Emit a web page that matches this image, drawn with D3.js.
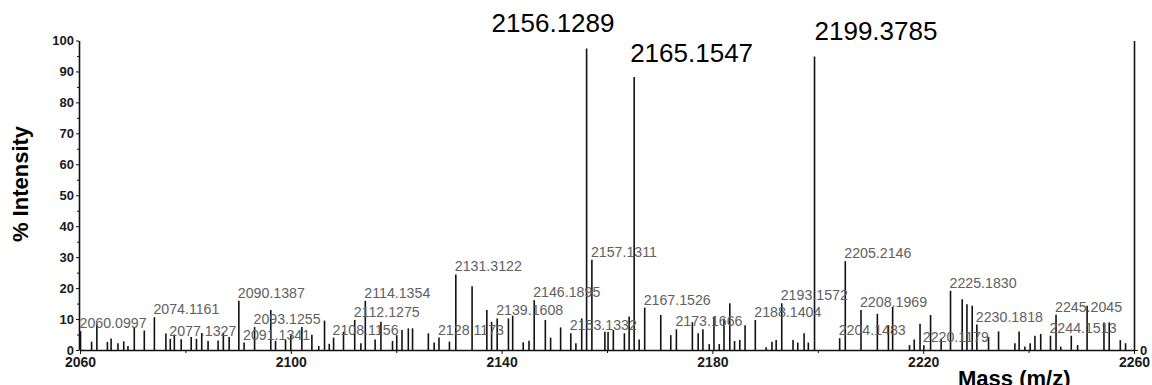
<!DOCTYPE html>
<html>
<head>
<meta charset="utf-8">
<script src="https://cdn.jsdelivr.net/npm/d3@7"></script>
<style>
	body { margin: 0; background: #fff; }
	#chart-area { width: 1152px; height: 385px; }
	.axis text { font-family: "Liberation Sans", Arial, sans-serif; font-weight: bold; fill: #1a1a1a; }
	.axis path, .axis line { stroke: #111; }
	.peak { stroke: #111; stroke-width: 1.6; }
	.peak-label { font-family: "Liberation Sans", Arial, sans-serif; font-size: 14.2px; fill: #606060; }
	.big-label { font-family: "Liberation Sans", Arial, sans-serif; font-size: 26px; fill: #000; }
	.axis-title { font-family: "Liberation Sans", Arial, sans-serif; font-weight: bold; font-size: 22px; fill: #000; }
</style>
</head>
<body>
<div id="chart-area"></div>
<script>

// peak positions (m/z) and % intensity
let peakMass = [
	2060.0997, 2062.2, 2063.2, 2065.2, 2065.9, 2067.2, 2068.3, 2069.1, 2070.3, 2072.2,
	2074.1161, 2076.3, 2077.1327, 2077.9, 2079.2, 2081.1, 2082.1, 2083.1, 2084.3, 2086.2,
	2087.2, 2088.3, 2090.1387, 2091.1341, 2093.1255, 2096.2, 2097.1, 2099.0, 2100.0, 2102.1,
	2104.0, 2105.3, 2106.4, 2107.3, 2108.1156, 2110.0, 2112.1275, 2113.3, 2114.1354, 2116.0,
	2117.1, 2119.3, 2120.1, 2121.1, 2122.3, 2123.1, 2126.1, 2127.2, 2128.1173, 2130.1,
	2131.3122, 2134.4, 2137.2, 2138.1, 2139.1608, 2141.3, 2142.1, 2144.1, 2145.2, 2146.1895,
	2148.3, 2149.3, 2151.2, 2153.1332, 2154.1, 2155.2, 2156.1289, 2157.1311, 2159.6, 2160.2,
	2161.2, 2163.3, 2164.2, 2165.1547, 2166.1, 2167.1526, 2170.2, 2172.1, 2173.1666, 2176.2,
	2177.3, 2178.2, 2179.4, 2180.3, 2181.3, 2182.2, 2183.3, 2184.2, 2185.2, 2186.2,
	2188.1404, 2190.2, 2191.3, 2192.1, 2193.1572, 2195.3, 2196.2, 2197.4, 2198.2, 2199.3785,
	2204.1483, 2205.2146, 2208.1969, 2211.3, 2213.4, 2214.2, 2217.4, 2218.3, 2219.4, 2220.1179,
	2221.4, 2223.4, 2225.1830, 2227.4, 2228.3, 2229.3, 2230.1818, 2232.4, 2234.3, 2237.4,
	2238.2, 2239.3, 2240.3, 2241.2, 2242.3, 2244.1513, 2245.2045, 2246.1, 2248.1, 2249.3,
	2251.1, 2254.3, 2255.3, 2257.4, 2258.4
];
let peakIntensity = [
	6.1, 2.7, 8.3, 2.6, 3.7, 2.2, 2.8, 1.3, 7.4, 6.3,
	10.6, 5.3, 3.6, 5.0, 3.5, 4.2, 3.6, 5.5, 2.9, 3.1,
	5.5, 4.2, 15.9, 2.4, 7.4, 12.9, 3.0, 3.3, 4.8, 7.4,
	4.9, 1.3, 9.5, 2.0, 4.0, 5.9, 9.7, 2.2, 15.9, 3.4,
	9.1, 2.9, 4.8, 6.5, 7.0, 7.0, 5.4, 2.4, 4.0, 2.7,
	24.4, 20.6, 12.9, 9.1, 10.2, 10.2, 11.1, 2.5, 3.0, 16.1,
	9.7, 4.0, 7.3, 5.4, 2.2, 10.2, 97.4, 29.2, 5.9, 5.8,
	6.5, 5.4, 10.8, 88.3, 3.4, 13.7, 11.3, 4.8, 6.7, 9.0,
	5.4, 6.7, 1.9, 10.8, 1.9, 10.2, 15.1, 2.9, 3.2, 8.0,
	9.7, 0.9, 2.7, 3.2, 15.1, 3.2, 2.4, 5.4, 2.4, 94.8,
	3.8, 28.7, 12.9, 11.7, 8.0, 13.9, 1.6, 3.4, 8.5, 1.5,
	11.3, 3.6, 19.1, 16.4, 14.8, 14.3, 8.2, 4.2, 6.0, 2.2,
	6.0, 1.1, 2.2, 4.6, 5.2, 4.6, 11.4, 1.1, 4.6, 1.6,
	14.3, 8.9, 8.9, 3.2, 2.2
];

// small grey peak annotations
let peakLabels = [
	"2060.0997", "2074.1161", "2077.1327", "2090.1387", "2091.1341", "2093.1255",
	"2108.1156", "2112.1275", "2114.1354", "2128.1173", "2131.3122", "2139.1608",
	"2146.1895", "2153.1332", "2157.1311", "2167.1526", "2173.1666", "2188.1404",
	"2193.1572", "2204.1483", "2205.2146", "2208.1969", "2220.1179", "2225.1830",
	"2230.1818", "2244.1513", "2245.2045"
];

// the three large annotations at the top
let bigLabels = ["2156.1289", "2165.1547", "2199.3785"];

let xTicks = [2060, 2100, 2140, 2180, 2220, 2260];
let xMinorTicks = [2080, 2120, 2160, 2200, 2240];
let yTicks = [0, 10, 20, 30, 40, 50, 60, 70, 80, 90, 100];
let yMinorTicks = [5, 15, 25, 35, 45, 55, 65, 75, 85, 95];


class SpectrumChart {

	constructor(parentElement) {
		this.parentElement = parentElement;
		this.displayData = peakMass.map((m, i) => ({mass: m, value: peakIntensity[i]}));
	}

	initVis() {
		let vis = this;

		vis.svg = d3.select("#" + vis.parentElement).append("svg")
			.attr("width", 1152)
			.attr("height", 385);

		vis.x = d3.scaleLinear()
			.domain([2060, 2260])
			.range([80, 1134]);

		vis.y = d3.scaleLinear()
			.domain([0, 100])
			.range([350, 40.5]);

		// x axis (major + minor ticks)
		vis.svg.append("g")
			.attr("class", "axis x-axis")
			.attr("transform", "translate(0,350)")
			.call(d3.axisBottom(vis.x).tickValues(xTicks).tickSize(4).tickPadding(3).tickSizeOuter(0).tickFormat(d3.format("d")))
			.call(g => g.selectAll("text").style("font-size", "14px"))
			.call(g => g.select(".domain").attr("stroke-width", 1.6));

		vis.svg.append("g")
			.attr("class", "axis")
			.attr("transform", "translate(0,350)")
			.call(d3.axisBottom(vis.x).tickValues(xMinorTicks).tickSize(3).tickFormat(""))
			.call(g => g.select(".domain").remove());

		// left y axis
		vis.svg.append("g")
			.attr("class", "axis y-axis")
			.attr("transform", "translate(79,0)")
			.call(d3.axisLeft(vis.y).tickValues(yTicks).tickSize(3).tickPadding(2).tickSizeOuter(0))
			.call(g => g.selectAll("text").style("font-size", "13px"))
			.call(g => g.select(".domain").attr("stroke-width", 1.6));

		vis.svg.append("g")
			.attr("class", "axis")
			.attr("transform", "translate(79,0)")
			.call(d3.axisLeft(vis.y).tickValues(yMinorTicks).tickSize(2).tickFormat(""))
			.call(g => g.select(".domain").remove());

		// right y axis, only the zero is labelled
		vis.svg.append("g")
			.attr("class", "axis")
			.attr("transform", "translate(1134,0)")
			.call(d3.axisRight(vis.y).tickValues([0]).tickSize(4).tickPadding(2).tickSizeOuter(0))
			.call(g => g.selectAll("text").style("font-size", "13px"))
			.call(g => g.select(".domain").attr("stroke-width", 1.6));

		// axis titles
		vis.svg.append("text")
			.attr("class", "axis-title")
			.attr("text-anchor", "middle")
			.attr("transform", "translate(28,184) rotate(-90)")
			.text("% Intensity");

		vis.svg.append("text")
			.attr("class", "axis-title")
			.attr("x", 958)
			.attr("y", 386)
			.text("Mass (m/z)");

		vis.updateVis();
	}

	updateVis() {
		let vis = this;

		// stick spectrum
		vis.svg.append("g").selectAll(".peak")
			.data(vis.displayData)
			.enter().append("line")
			.attr("class", "peak")
			.attr("x1", d => vis.x(d.mass))
			.attr("x2", d => vis.x(d.mass))
			.attr("y1", vis.y(0))
			.attr("y2", d => vis.y(d.value));

		// grey labels sit just above their peak
		let lookup = m => vis.displayData.find(d => Math.abs(d.mass - m) < 0.01);

		vis.svg.append("g").selectAll(".peak-label")
			.data(peakLabels)
			.enter().append("text")
			.attr("class", "peak-label")
			.attr("x", d => vis.x(+d) - 1)
			.attr("y", d => vis.y(lookup(+d).value) - 3)
			.text(d => d);

		// large labels on white boxes
		let bigOffsets = [{dx: -95, y: 32, bx: -114, bw: 147, by: 0, bh: 45},
			{dx: -4, y: 62, bx: -14, bw: 165, by: 23, bh: 54},
			{dx: 0, y: 40, bx: -21, bw: 167, by: 15, bh: 40}];

		let big = vis.svg.append("g").selectAll(".big")
			.data(bigLabels)
			.enter().append("g");

		big.append("rect")
			.attr("x", (d, i) => vis.x(+d) + bigOffsets[i].bx)
			.attr("y", (d, i) => bigOffsets[i].by)
			.attr("width", (d, i) => bigOffsets[i].bw)
			.attr("height", (d, i) => bigOffsets[i].bh)
			.attr("fill", "#fff");

		big.append("text")
			.attr("class", "big-label")
			.attr("x", (d, i) => vis.x(+d) + bigOffsets[i].dx)
			.attr("y", (d, i) => bigOffsets[i].y)
			.text(d => d);
	}
}

let chart = new SpectrumChart("chart-area");
chart.initVis();

</script>
</body>
</html>
